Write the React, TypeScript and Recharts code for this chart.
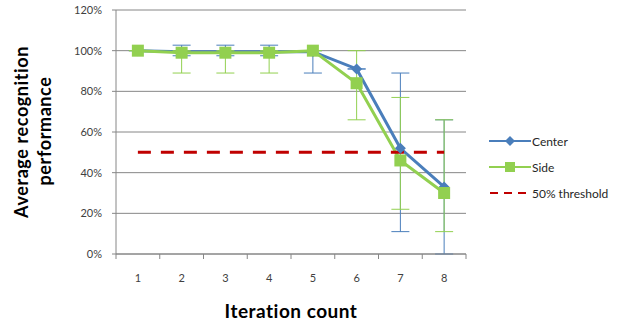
import React from 'react';
import { LineChart, Line, XAxis, YAxis, CartesianGrid, ErrorBar, Legend, Label } from 'recharts';

const iterations = ['1', '2', '3', '4', '5', '6', '7', '8'];
const centerValues = [100, 99.5, 99.5, 99.5, 99.5, 91, 52, 33];
const sideValues = [100, 99, 99, 99, 100, 84, 46, 30];
const thresholdValues = [50, 50, 50, 50, 50, 50, 50, 50];
// [below, above] error deltas
const centerErrors = [[0, 0], [2, 3.2], [2, 3.2], [2, 3.2], [10.5, 0.5], [0, 0], [41, 37], [33, 33]];
const sideErrors = [[0, 0], [10, 1], [10, 1], [10, 1], [0, 0], [18, 16], [24, 31], [19, 36]];
const yTicks = [0, 20, 40, 60, 80, 100, 120];

const data = iterations.map((it, i) => ({
  iteration: it,
  center: centerValues[i],
  side: sideValues[i],
  threshold: thresholdValues[i],
  centerErr: centerErrors[i],
  sideErr: sideErrors[i],
}));

const BLUE = '#4a7ebb';
const GREEN = '#92d050';
const RED = '#c00000';
const AXIS = '#868686';
const FONT = 'Lato, "Open Sans", sans-serif';

const PLOT_LEFT = 116;
const PLOT_RIGHT = 466;
const HALF_BAND = (PLOT_RIGHT - PLOT_LEFT) / iterations.length / 2;

const Diamond = (props: any) => {
  const { cx, cy } = props;
  if (cx == null || cy == null) return null;
  const r = 5.5;
  return <path d={`M${cx},${cy - r}L${cx + r},${cy}L${cx},${cy + r}L${cx - r},${cy}Z`} fill={BLUE} />;
};

const Square = (props: any) => {
  const { cx, cy } = props;
  if (cx == null || cy == null) return null;
  return <rect x={cx - 6} y={cy - 6} width={12} height={12} fill={GREEN} />;
};

const XTick = (props: any) => {
  const { x, y, payload, index } = props;
  return (
    <g>
      <line x1={x - HALF_BAND} x2={x - HALF_BAND} y1={y} y2={y + 5} stroke={AXIS} />
      {index === iterations.length - 1 && (
        <line x1={x + HALF_BAND} x2={x + HALF_BAND} y1={y} y2={y + 5} stroke={AXIS} />
      )}
      <text x={x} y={y + 28} textAnchor="middle" fontSize={11} fill="#404040" fontFamily={FONT}>
        {payload.value}
      </text>
    </g>
  );
};

const legendItems = [
  { label: 'Center', color: BLUE, kind: 'diamond' },
  { label: 'Side', color: GREEN, kind: 'square' },
  { label: '50% threshold', color: RED, kind: 'dash' },
];

const LegendContent = () => (
  <div style={{ fontFamily: FONT, fontSize: 12, color: '#262626' }}>
    {legendItems.map((item) => (
      <div key={item.label} style={{ display: 'flex', alignItems: 'center', height: 26 }}>
        <svg width={42} height={12} style={{ marginRight: 1 }}>
          {item.kind === 'dash' ? (
            <line x1={1} x2={41} y1={6} y2={6} stroke={item.color} strokeWidth={2} strokeDasharray="8 6" />
          ) : (
            <line x1={0} x2={42} y1={6} y2={6} stroke={item.color} strokeWidth={2} />
          )}
          {item.kind === 'diamond' && <path d="M21,1L26,6L21,11L16,6Z" fill={item.color} />}
          {item.kind === 'square' && <rect x={16} y={1} width={10} height={10} fill={item.color} />}
        </svg>
        <span>{item.label}</span>
      </div>
    ))}
  </div>
);

export default function App() {
  return (
    <div style={{ position: 'absolute', left: 0, top: 0, background: '#fff' }}>
      <LineChart width={629} height={325} data={data} margin={{ top: 10, right: 629 - PLOT_RIGHT, bottom: 0, left: 0 }}>
        <CartesianGrid vertical={false} stroke={AXIS} strokeDasharray="" />
        <XAxis
          dataKey="iteration"
          height={71}
          stroke={AXIS}
          tickLine={false}
          tickSize={0}
          tickMargin={0}
          tick={<XTick />}
          interval={0}
          padding={{ left: HALF_BAND, right: HALF_BAND }}
        >
          <Label
            content={() => (
              <text x={291} y={318} textAnchor="middle" fontSize={19} letterSpacing={0.5} fontWeight="bold" fill="#000" fontFamily={FONT}>
                Iteration count
              </text>
            )}
          />
        </XAxis>
        <YAxis
          width={PLOT_LEFT}
          domain={[0, 120]}
          ticks={yTicks}
          tickFormatter={(v: number) => `${v}%`}
          stroke={AXIS}
          tickSize={4}
          tickMargin={10}
          tick={{ fontSize: 11, fill: '#404040', fontFamily: FONT }}
        >
          <Label
            content={() => (
              <g fontSize={18} letterSpacing={0.6} fontWeight="bold" fill="#000" fontFamily={FONT} textAnchor="middle">
                <text transform="translate(28,132) rotate(-90)">Average recognition</text>
                <text transform="translate(51,131) rotate(-90)">performance</text>
              </g>
            )}
          />
        </YAxis>
        <Legend
          layout="vertical"
          align="center"
          verticalAlign="middle"
          content={<LegendContent />}
          wrapperStyle={{ left: 489, top: 128, width: 140 }}
        />
        <Line
          dataKey="center"
          stroke={BLUE}
          strokeWidth={3}
          dot={<Diamond />}
          activeDot={false}
          isAnimationActive={false}
        >
          <ErrorBar dataKey="centerErr" direction="y" width={9} stroke={BLUE} strokeWidth={1} />
        </Line>
        <Line
          dataKey="side"
          stroke={GREEN}
          strokeWidth={3}
          dot={<Square />}
          activeDot={false}
          isAnimationActive={false}
        >
          <ErrorBar dataKey="sideErr" direction="y" width={9} stroke={GREEN} strokeWidth={1} />
        </Line>
        <Line
          dataKey="threshold"
          stroke={RED}
          strokeWidth={3}
          strokeDasharray="13 10"
          dot={false}
          activeDot={false}
          isAnimationActive={false}
        />
      </LineChart>
    </div>
  );
}
